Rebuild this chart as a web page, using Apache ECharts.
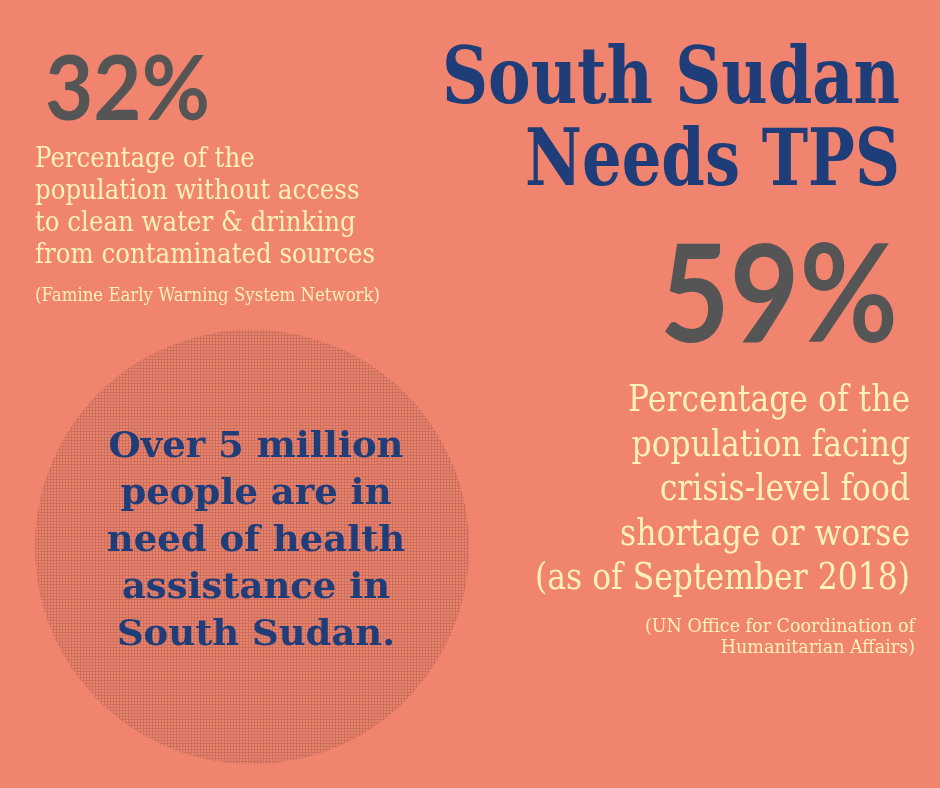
<!DOCTYPE html>
<html>
<head>
<meta charset="utf-8">
<script src="https://cdn.jsdelivr.net/npm/echarts@6/dist/echarts.min.js"></script>
<style>
html,body{margin:0;padding:0;background:#F1846F;}
#chart{width:940px;height:788px;}
</style>
</head>
<body>
<div id="chart"></div>
<script>
// ---- data ----
const statValues = [32, 59];
const statUnit = '%';
const waterLabel = ['Percentage of the', 'population without access', 'to clean water & drinking', 'from contaminated sources'];
const waterSource = ['(Famine Early Warning System Network)'];
const foodLabel = ['Percentage of the', 'population facing', 'crisis-level food', 'shortage or worse', '(as of September 2018)'];
const foodSource = ['(UN Office for Coordination of', 'Humanitarian Affairs)'];
const titleLines = ['South Sudan', 'Needs TPS'];
const healthNeedMillions = [5];
const healthLines = ['Over ' + healthNeedMillions[0] + ' million', 'people are in', 'need of health', 'assistance in', 'South Sudan.'];

// ---- styling helpers ----
const BG = '#F1846F', NAVY = '#1E3D79', CREAM = '#FFF2B6', GRAY = '#555555';
const SERIF = '"DejaVu Serif"', SANS = 'Lato';
const cv = document.createElement('canvas').getContext('2d');
function measure(t, font) { cv.font = font; return cv.measureText(t).width; }

function block(o) {
  const font = (o.weight || 'normal') + ' ' + o.size + 'px ' + o.family;
  const s = o.fitWidth ? o.fitWidth / measure(o.fitLine, font) : 1;
  const lh = o.lineHeight || o.size;
  const ratio = o.family === SANS ? 0.33 : 0.28;
  return {
    type: 'text',
    x: o.x,
    y: o.baseline - ratio * o.size - lh / 2,
    scaleX: s,
    z: 100,
    silent: true,
    style: {
      text: o.lines.join('\n'),
      fill: o.color,
      font: font,
      align: o.align, textAlign: o.align,
      verticalAlign: 'top', textVerticalAlign: 'top',
      lineHeight: lh
    }
  };
}

const chart = echarts.init(document.getElementById('chart'), null, {renderer: 'canvas', width: 940, height: 788});
chart.setOption({
  backgroundColor: BG,
  animation: false,
  series: [{
    type: 'pie',
    silent: true,
    z: 1,
    center: [252, 547],
    radius: [0, 217],
    label: {show: false},
    labelLine: {show: false},
    itemStyle: {
      color: '#CF6E5C',
      borderWidth: 0,
      decal: {symbol: 'rect', symbolSize: 1, dashArrayX: [2, 1], dashArrayY: [2, 1], color: '#E8856F'}
    },
    data: [{value: healthNeedMillions[0], name: 'People in need of health assistance (millions)'}]
  }],
  graphic: {elements: [
    block({lines: [statValues[0] + statUnit], family: SANS, weight: 'bold', size: 90, x: 45, align: 'left', baseline: 121, fitLine: statValues[0] + statUnit, fitWidth: 165, color: GRAY}),
    block({lines: waterLabel, family: SERIF, size: 27, lineHeight: 31.7, x: 35, align: 'left', baseline: 168, fitLine: waterLabel[3], fitWidth: 340, color: CREAM}),
    block({lines: waterSource, family: SERIF, size: 18.5, x: 35, align: 'left', baseline: 301, fitLine: waterSource[0], fitWidth: 345, color: CREAM}),
    block({lines: [titleLines[0]], family: SERIF, weight: 'bold', size: 78, x: 900, align: 'right', baseline: 105, fitLine: titleLines[0], fitWidth: 458, color: NAVY}),
    block({lines: [titleLines[1]], family: SERIF, weight: 'bold', size: 78, x: 900, align: 'right', baseline: 187, fitLine: titleLines[1], fitWidth: 375, color: NAVY}),
    block({lines: [statValues[1] + statUnit], family: SANS, weight: 'bold', size: 136, x: 898, align: 'right', baseline: 343, fitLine: statValues[1] + statUnit, fitWidth: 238, color: GRAY}),
    block({lines: foodLabel, family: SERIF, size: 37, lineHeight: 44.5, x: 910, align: 'right', baseline: 412, fitLine: foodLabel[4], fitWidth: 375, color: CREAM}),
    block({lines: foodSource, family: SERIF, size: 18.5, lineHeight: 21.5, x: 915, align: 'right', baseline: 632, fitLine: foodSource[0], fitWidth: 270, color: CREAM}),
    block({lines: healthLines, family: SERIF, weight: 'bold', size: 35, lineHeight: 47, x: 256, align: 'center', baseline: 458, fitLine: healthLines[0], fitWidth: 295, color: NAVY})
  ]}
});
</script>
</body>
</html>
